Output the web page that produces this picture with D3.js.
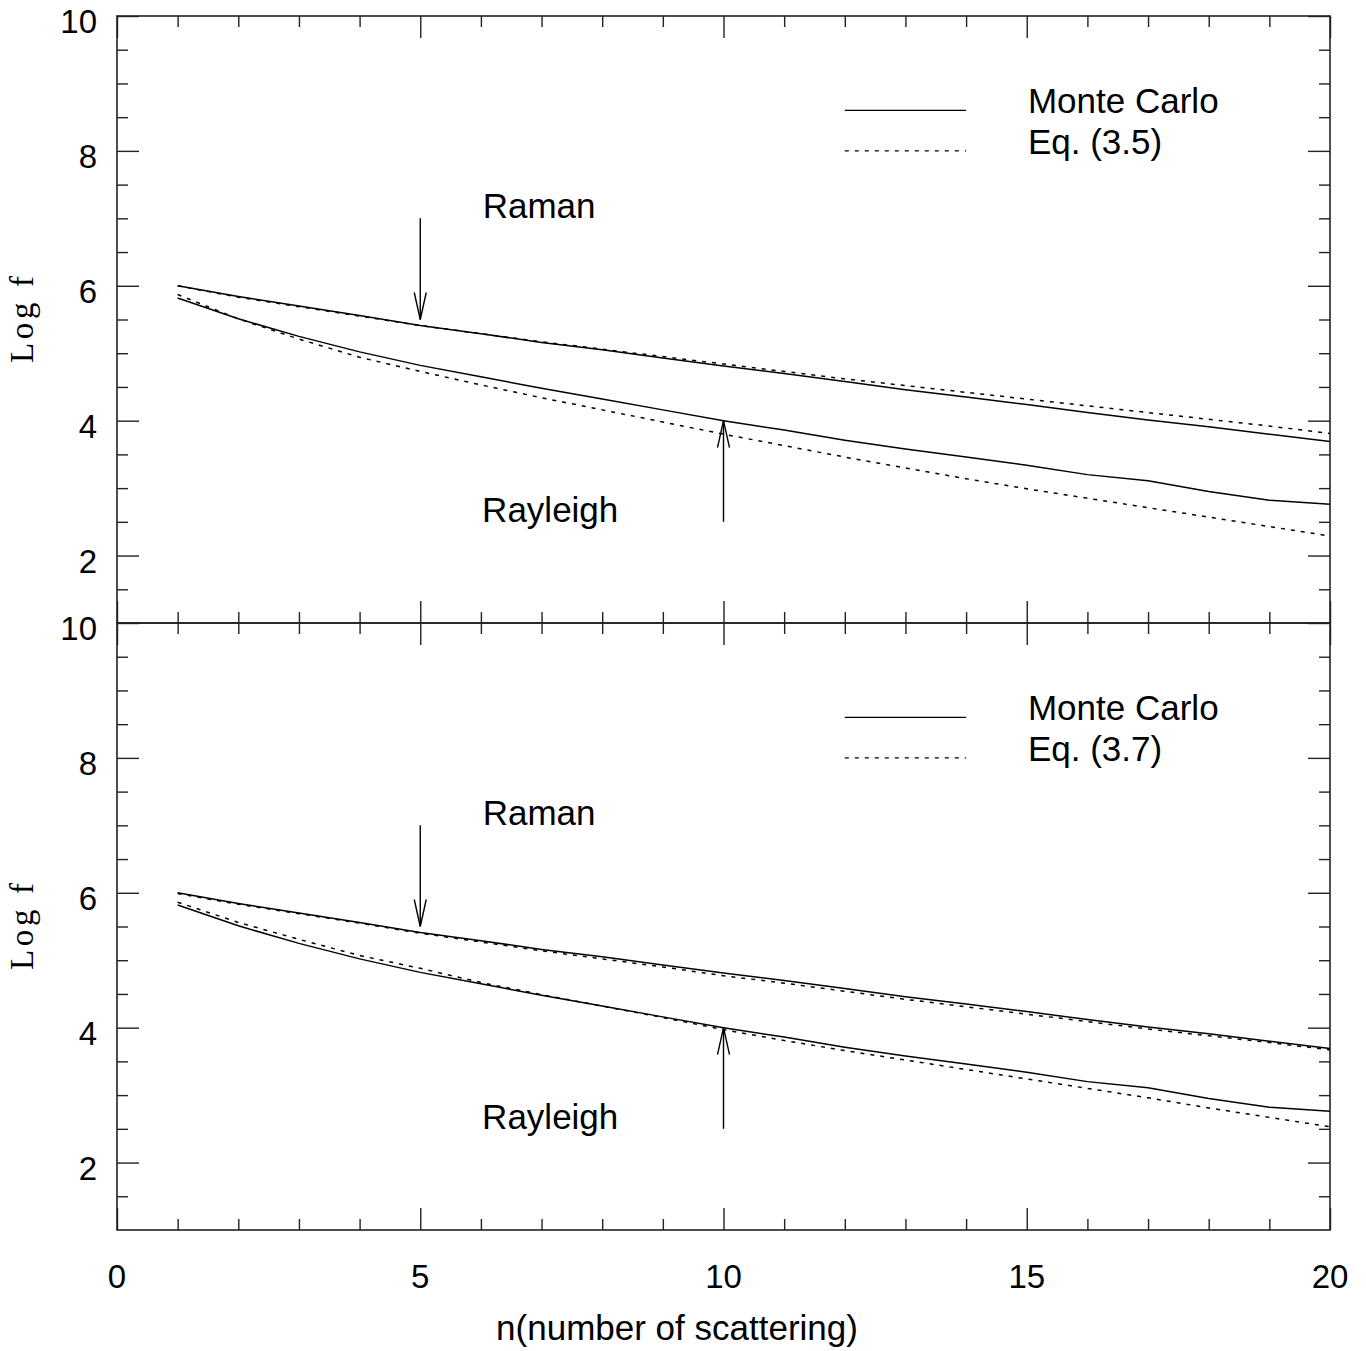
<!DOCTYPE html>
<html>
<head>
<meta charset="utf-8">
<script src="https://cdn.jsdelivr.net/npm/d3@7"></script>
<style>
  body { margin: 0; background: #fff; }
  svg { display: block; }
</style>
</head>
<body>
<script>
// ---------------- data ----------------
const nValues = [1, 2, 3, 4, 5, 6, 7, 8, 9, 10, 11, 12, 13, 14, 15, 16, 17, 18, 19, 20];

// Monte Carlo (same in both panels)
const monteCarloRaman    = [6.00, 5.84, 5.70, 5.56, 5.41, 5.29, 5.16, 5.05, 4.93, 4.81, 4.70, 4.58, 4.46, 4.35, 4.24, 4.12, 4.01, 3.91, 3.80, 3.69];
const monteCarloRayleigh = [5.82, 5.51, 5.25, 5.02, 4.82, 4.65, 4.48, 4.32, 4.16, 4.00, 3.86, 3.71, 3.58, 3.46, 3.34, 3.20, 3.11, 2.95, 2.82, 2.76];

// Eq. (3.5) - top panel
const eq35Raman    = [6.00, 5.83, 5.69, 5.55, 5.41, 5.29, 5.17, 5.06, 4.95, 4.84, 4.73, 4.62, 4.52, 4.42, 4.32, 4.22, 4.12, 4.02, 3.92, 3.81];
const eq35Rayleigh = [5.87, 5.51, 5.21, 4.94, 4.73, 4.53, 4.34, 4.16, 3.98, 3.80, 3.63, 3.46, 3.30, 3.14, 2.99, 2.85, 2.71, 2.57, 2.43, 2.29];

// Eq. (3.7) - bottom panel
const eq37Raman    = [5.99, 5.83, 5.69, 5.55, 5.40, 5.27, 5.14, 5.02, 4.90, 4.77, 4.66, 4.54, 4.42, 4.31, 4.20, 4.09, 3.98, 3.88, 3.78, 3.67];
const eq37Rayleigh = [5.86, 5.56, 5.31, 5.07, 4.88, 4.67, 4.49, 4.32, 4.15, 3.97, 3.81, 3.66, 3.52, 3.38, 3.24, 3.10, 2.96, 2.81, 2.67, 2.53];

const legendLabels = ["Monte Carlo", "Eq. (3.5)", "Eq. (3.7)"];
const xTickLabels = [0, 5, 10, 15, 20];
const xMinorTicks = [1, 2, 3, 4, 6, 7, 8, 9, 11, 12, 13, 14, 16, 17, 18, 19];
const yTickLabels = [2, 4, 6, 8, 10];
const yMinorTicks = [1.5, 2.5, 3, 3.5, 4.5, 5, 5.5, 6.5, 7, 7.5, 8.5, 9, 9.5];
const xTitle = "n(number of scattering)";
const yTitle = "Log f";

// arrows: [n, from, to]
const ramanArrow = [5, 7.0, 5.5];
const rayleighArrow = [10, 2.5, 4.0];

// ---------------- drawing ----------------
const W = 1366, H = 1351;
const xL = 117, xR = 1330;
const SANS = "'Liberation Sans', Arial, Helvetica, sans-serif";
const SERIF = "'Liberation Serif', 'Times New Roman', serif";
const AX = "#222";

const svg = d3.select("body").append("svg").attr("width", W).attr("height", H);

const x = d3.scaleLinear().domain([0, 20]).range([xL, xR]);

const panels = [
  { top: 16, bottom: 623, eqRaman: eq35Raman, eqRayleigh: eq35Rayleigh, eqLabel: legendLabels[1] },
  { top: 623, bottom: 1230, eqRaman: eq37Raman, eqRayleigh: eq37Rayleigh, eqLabel: legendLabels[2] }
];

const line = (y) => d3.line().x((d, i) => x(nValues[i])).y(d => y(d)).curve(d3.curveLinear);

function styleAxis(g) {
  g.select(".domain").remove();
  g.selectAll(".tick line").attr("stroke", AX).attr("stroke-width", 1.4);
  g.selectAll(".tick text").remove();
}

panels.forEach((p, pi) => {
  const y = d3.scaleLinear().domain([1, 10]).range([p.bottom, p.top]);
  const g = svg.append("g");

  // ticks (inward)
  g.append("g").attr("transform", `translate(${xL},0)`).call(d3.axisLeft(y).tickValues(yTickLabels).tickSize(-22)).call(styleAxis);
  g.append("g").attr("transform", `translate(${xL},0)`).call(d3.axisLeft(y).tickValues(yMinorTicks).tickSize(-11)).call(styleAxis);
  g.append("g").attr("transform", `translate(${xR},0)`).call(d3.axisRight(y).tickValues(yTickLabels).tickSize(-22)).call(styleAxis);
  g.append("g").attr("transform", `translate(${xR},0)`).call(d3.axisRight(y).tickValues(yMinorTicks).tickSize(-11)).call(styleAxis);
  g.append("g").attr("transform", `translate(0,${p.top})`).call(d3.axisTop(x).tickValues(xTickLabels).tickSize(-22)).call(styleAxis);
  g.append("g").attr("transform", `translate(0,${p.top})`).call(d3.axisTop(x).tickValues(xMinorTicks).tickSize(-11)).call(styleAxis);
  g.append("g").attr("transform", `translate(0,${p.bottom})`).call(d3.axisBottom(x).tickValues(xTickLabels).tickSize(-22)).call(styleAxis);
  g.append("g").attr("transform", `translate(0,${p.bottom})`).call(d3.axisBottom(x).tickValues(xMinorTicks).tickSize(-11)).call(styleAxis);

  // frame
  g.append("rect")
    .attr("x", xL).attr("y", p.top)
    .attr("width", xR - xL).attr("height", p.bottom - p.top)
    .attr("fill", "none").attr("stroke", AX).attr("stroke-width", 1.6);

  // y tick labels
  g.selectAll("text.ytl").data(yTickLabels).join("text")
    .attr("class", "ytl")
    .attr("x", xL - 20).attr("y", d => y(d) + 17)
    .attr("text-anchor", "end")
    .attr("font-family", SANS).attr("font-size", 33)
    .text(d => d);

  // y title
  const yc = (p.top + p.bottom) / 2;
  g.append("text")
    .attr("transform", `translate(33,${yc}) rotate(-90)`)
    .attr("text-anchor", "middle")
    .attr("font-family", SERIF).attr("font-size", 33)
    .attr("textLength", 87).attr("lengthAdjust", "spacing")
    .text(yTitle);

  // curves
  const L = line(y);
  [[monteCarloRaman, null], [monteCarloRayleigh, null], [p.eqRaman, "4,6"], [p.eqRayleigh, "4,6"]].forEach(([arr, dash]) => {
    g.append("path").attr("d", L(arr))
      .attr("fill", "none").attr("stroke", "#000").attr("stroke-width", 1.5)
      .attr("stroke-dasharray", dash);
  });

  // arrows
  [ramanArrow, rayleighArrow].forEach(([n, from, to]) => {
    const ax = x(n), y0 = y(from), y1 = y(to);
    const dir = y1 > y0 ? 1 : -1;
    g.append("line").attr("x1", ax).attr("x2", ax).attr("y1", y0).attr("y2", y1)
      .attr("stroke", "#000").attr("stroke-width", 1.4);
    g.append("path")
      .attr("d", `M${ax - 6},${y1 - dir * 27}L${ax},${y1}L${ax + 6},${y1 - dir * 27}`)
      .attr("fill", "none").attr("stroke", "#000").attr("stroke-width", 1.4);
  });

  // annotations
  g.append("text").attr("x", x(6.03)).attr("y", y(ramanArrow[1]))
    .attr("font-family", SANS).attr("font-size", 35).text("Raman");
  g.append("text").attr("x", x(6.02)).attr("y", y(rayleighArrow[1]))
    .attr("font-family", SANS).attr("font-size", 35).text("Rayleigh");

  // legend
  const legY = [8.6, 8.0];
  const legLabels = [legendLabels[0], p.eqLabel];
  const legDash = [null, "4,6"];
  legY.forEach((v, i) => {
    g.append("line").attr("x1", x(12)).attr("x2", x(14)).attr("y1", y(v)).attr("y2", y(v))
      .attr("stroke", "#000").attr("stroke-width", 1.4).attr("stroke-dasharray", legDash[i]);
    g.append("text").attr("x", x(15.02)).attr("y", y(v) + 3)
      .attr("font-family", SANS).attr("font-size", 35).text(legLabels[i]);
  });

  // x tick labels on bottom panel
  if (pi === 1) {
    g.selectAll("text.xtl").data(xTickLabels).join("text")
      .attr("class", "xtl")
      .attr("x", d => x(d)).attr("y", p.bottom + 58)
      .attr("text-anchor", "middle")
      .attr("font-family", SANS).attr("font-size", 33)
      .text(d => d);
    g.append("text").attr("x", 677).attr("y", p.bottom + 110)
      .attr("text-anchor", "middle")
      .attr("font-family", SANS).attr("font-size", 35)
      .text(xTitle);
  }
});
</script>
</body>
</html>
